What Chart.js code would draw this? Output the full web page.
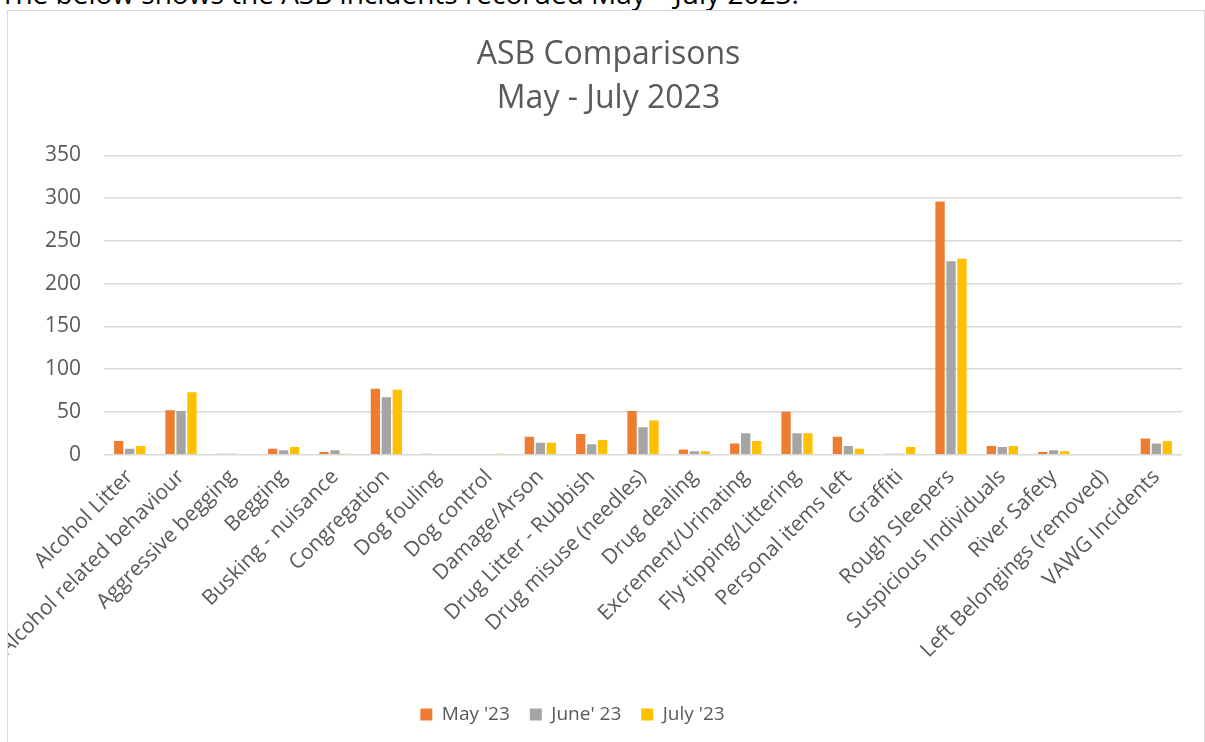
<!DOCTYPE html>
<html>
<head>
<meta charset="utf-8">
<script src="https://cdn.jsdelivr.net/npm/chart.js@4.4.0/dist/chart.umd.min.js"></script>
<style>
    html, body { margin: 0; padding: 0; background: #fff; overflow: hidden; width: 1205px; height: 742px; }
    #intro {
        position: absolute; left: 0; top: -21px;
        font-family: 'Open Sans', sans-serif; font-size: 28px; line-height: 28px;
        color: #000; white-space: nowrap;
    }
    #frame {
        position: absolute; left: 7px; top: 10px;
        width: 1198px; height: 760px;
        border: 1px solid #d9d9d9; box-sizing: border-box;
        background: #fff;
    }
    #chartBox { position: absolute; left: 0; top: 0; width: 1196px; height: 723px; }
</style>
</head>
<body>
<div id="intro">The below shows the ASB incidents recorded May – July 2023.</div>
<div id="frame">
    <div id="chartBox"><canvas id="asbChart"></canvas></div>
</div>
<script>
// Chart data
const categories = [
    'Alcohol Litter', 'Alcohol related behaviour', 'Aggressive begging', 'Begging',
    'Busking - nuisance', 'Congregation', 'Dog fouling', 'Dog control', 'Damage/Arson',
    'Drug Litter - Rubbish', 'Drug misuse (needles)', 'Drug dealing', 'Excrement/Urinating',
    'Fly tipping/Littering', 'Personal items left', 'Graffiti', 'Rough Sleepers',
    'Suspicious Individuals', 'River Safety', 'Left Belongings (removed)', 'VAWG Incidents'
];
const may23  = [16, 52, 1, 7, 3, 77, 1, 0, 21, 24, 51, 6, 13, 50, 21, 1, 296, 10, 3, 0, 19];
const june23 = [7, 51, 1, 5, 5, 67, 0, 0, 14, 12, 32, 4, 25, 25, 10, 1, 226, 9, 5, 0, 13];
const july23 = [10, 73, 0, 9, 1, 76, 0, 1, 14, 17, 40, 4, 16, 25, 7, 9, 229, 10, 4, 0, 16];
const yTicks = [0, 50, 100, 150, 200, 250, 300, 350];

const seriesNames = ["May '23", "June' 23", "July '23"];
const seriesColors = ['#ED7D31', '#A5A5A5', '#FFC000'];
const textGrey = '#595959';
const fontFamily = "'Open Sans', sans-serif";

const datasets = [may23, june23, july23].map((vals, i) => ({
    label: seriesNames[i],
    data: vals,
    backgroundColor: seriesColors[i],
    borderWidth: 0,
    barPercentage: 0.85,
    categoryPercentage: 0.64
}));

// Legend sits a little left of centre in the original
const legendShift = {
    id: 'legendShift',
    afterLayout(chart) {
        if (chart.legend) {
            chart.legend.left -= 36;
            chart.legend.right -= 36;
        }
    }
};

new Chart(document.getElementById('asbChart'), {
    type: 'bar',
    data: { labels: categories, datasets },
    plugins: [legendShift],
    options: {
        responsive: true,
        maintainAspectRatio: false,
        animation: false,
        layout: { padding: { left: 27, right: 22, top: 0, bottom: 0 } },
        plugins: {
            title: {
                display: true,
                text: ['ASB Comparisons', 'May - July 2023'],
                color: textGrey,
                font: { family: fontFamily, size: 32, weight: 'normal', lineHeight: 1.38 },
                padding: { top: 22, bottom: 34 }
            },
            legend: {
                position: 'bottom',
                labels: {
                    color: textGrey,
                    font: { family: fontFamily, size: 19 },
                    boxWidth: 12,
                    boxHeight: 12,
                    padding: 20
                }
            },
            tooltip: { enabled: false }
        },
        scales: {
            x: {
                grid: { display: false },
                border: { display: false },
                afterFit: axis => { axis.height += 20; },
                ticks: {
                    color: textGrey,
                    font: { family: fontFamily, size: 21 },
                    maxRotation: 45,
                    minRotation: 45,
                    autoSkip: false,
                    padding: 2
                }
            },
            y: {
                min: 0,
                max: 350,
                afterBuildTicks: axis => { axis.ticks = yTicks.map(v => ({ value: v })); },
                afterFit: axis => { axis.width -= 13; },
                grid: { color: '#d9d9d9', lineWidth: 1.5, drawTicks: false },
                border: { display: false },
                ticks: {
                    color: textGrey,
                    font: { family: fontFamily, size: 21 },
                    padding: 23
                }
            }
        }
    }
});
</script>
</body>
</html>
